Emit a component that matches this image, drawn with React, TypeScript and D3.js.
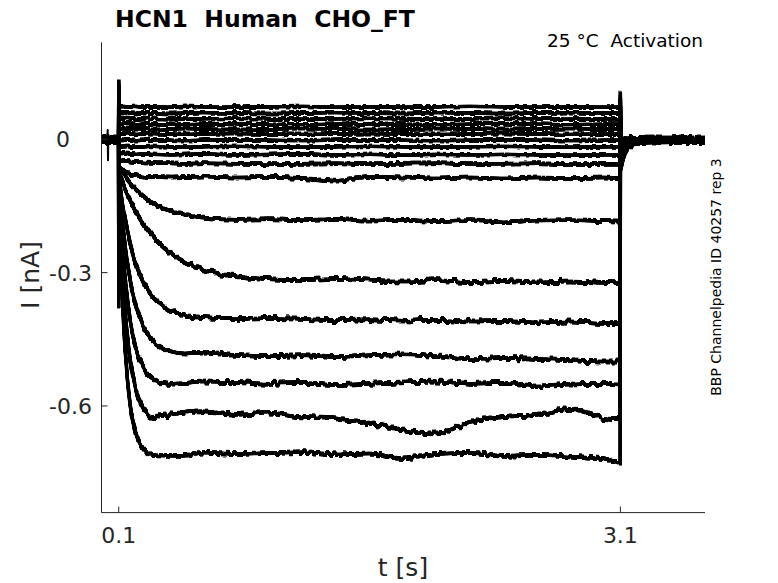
import React from 'react';
import * as d3 from 'd3';

const width = 778;
const height = 583;

// sample times (s) along the voltage step
const stepTimes = [
  0.101, 0.11, 0.12, 0.13, 0.15, 0.17, 0.2, 0.25, 0.3, 0.4, 0.5, 0.6, 0.8,
  1.0, 1.2, 1.4, 1.6, 1.8, 2.0, 2.2, 2.4, 2.6, 2.8, 3.0, 3.099,
];

// current (nA) of each sweep at stepTimes, top sweep first
const stepCurrents = [
  [0.073, 0.072, 0.073, 0.074, 0.072, 0.073, 0.074, 0.072, 0.073, 0.072, 0.074, 0.073, 0.072, 0.073, 0.074, 0.072, 0.073, 0.072, 0.073, 0.074, 0.073, 0.072, 0.073, 0.072, 0.073],
  [0.059, 0.060, 0.058, 0.059, 0.060, 0.059, 0.058, 0.060, 0.059, 0.058, 0.059, 0.060, 0.059, 0.058, 0.059, 0.060, 0.059, 0.058, 0.060, 0.059, 0.058, 0.059, 0.060, 0.059, 0.059],
  [0.047, 0.046, 0.045, 0.046, 0.047, 0.046, 0.045, 0.046, 0.047, 0.046, 0.045, 0.046, 0.047, 0.046, 0.045, 0.046, 0.047, 0.046, 0.045, 0.046, 0.047, 0.046, 0.045, 0.046, 0.046],
  [0.035, 0.034, 0.033, 0.034, 0.035, 0.034, 0.033, 0.034, 0.035, 0.034, 0.033, 0.034, 0.035, 0.034, 0.033, 0.034, 0.035, 0.034, 0.033, 0.034, 0.035, 0.034, 0.033, 0.034, 0.034],
  [0.022, 0.023, 0.024, 0.023, 0.022, 0.023, 0.024, 0.023, 0.022, 0.023, 0.024, 0.023, 0.022, 0.023, 0.024, 0.023, 0.022, 0.023, 0.024, 0.023, 0.022, 0.023, 0.024, 0.023, 0.023],
  [0.013, 0.012, 0.011, 0.012, 0.013, 0.012, 0.011, 0.012, 0.013, 0.012, 0.011, 0.012, 0.013, 0.012, 0.011, 0.012, 0.013, 0.012, 0.011, 0.012, 0.013, 0.012, 0.011, 0.012, 0.012],
  [-0.001, -0.002, -0.003, -0.002, -0.001, -0.002, -0.003, -0.002, -0.001, -0.002, -0.003, -0.002, -0.001, -0.002, -0.003, -0.002, -0.001, -0.002, -0.003, -0.002, -0.001, -0.002, -0.003, -0.002, -0.002],
  [-0.014, -0.015, -0.016, -0.017, -0.016, -0.017, -0.018, -0.017, -0.016, -0.017, -0.018, -0.017, -0.016, -0.017, -0.018, -0.017, -0.016, -0.017, -0.018, -0.017, -0.016, -0.017, -0.018, -0.017, -0.017],
  [-0.028, -0.029, -0.030, -0.031, -0.032, -0.033, -0.034, -0.033, -0.034, -0.035, -0.034, -0.033, -0.035, -0.034, -0.033, -0.035, -0.034, -0.036, -0.034, -0.035, -0.034, -0.035, -0.036, -0.035, -0.035],
  [-0.045, -0.046, -0.047, -0.048, -0.049, -0.050, -0.051, -0.052, -0.053, -0.054, -0.055, -0.054, -0.055, -0.056, -0.055, -0.054, -0.056, -0.055, -0.054, -0.056, -0.055, -0.054, -0.056, -0.055, -0.055],
  [-0.063, -0.066, -0.069, -0.071, -0.075, -0.078, -0.081, -0.084, -0.085, -0.086, -0.085, -0.084, -0.086, -0.085, -0.087, -0.093, -0.085, -0.086, -0.088, -0.086, -0.088, -0.086, -0.087, -0.086, -0.087],
  [-0.058, -0.065, -0.071, -0.077, -0.089, -0.099, -0.112, -0.129, -0.143, -0.160, -0.170, -0.176, -0.181, -0.180, -0.182, -0.179, -0.183, -0.181, -0.184, -0.182, -0.187, -0.183, -0.182, -0.184, -0.185],
  [-0.074, -0.084, -0.094, -0.104, -0.122, -0.138, -0.161, -0.192, -0.217, -0.253, -0.277, -0.292, -0.308, -0.315, -0.317, -0.314, -0.318, -0.320, -0.317, -0.321, -0.319, -0.322, -0.320, -0.323, -0.324],
  [-0.087, -0.115, -0.140, -0.163, -0.203, -0.237, -0.277, -0.324, -0.353, -0.384, -0.397, -0.402, -0.405, -0.402, -0.404, -0.407, -0.405, -0.408, -0.406, -0.410, -0.409, -0.412, -0.410, -0.413, -0.414],
  [-0.092, -0.138, -0.179, -0.215, -0.275, -0.321, -0.372, -0.425, -0.453, -0.476, -0.482, -0.480, -0.485, -0.488, -0.486, -0.490, -0.486, -0.484, -0.488, -0.495, -0.492, -0.494, -0.497, -0.500, -0.500],
  [-0.096, -0.166, -0.225, -0.276, -0.354, -0.411, -0.467, -0.515, -0.537, -0.550, -0.548, -0.545, -0.546, -0.550, -0.548, -0.553, -0.550, -0.547, -0.545, -0.550, -0.548, -0.556, -0.552, -0.550, -0.552],
  [-0.103, -0.199, -0.277, -0.342, -0.437, -0.501, -0.561, -0.606, -0.625, -0.620, -0.615, -0.612, -0.620, -0.615, -0.624, -0.628, -0.640, -0.655, -0.662, -0.636, -0.625, -0.620, -0.607, -0.627, -0.630],
  [-0.109, -0.237, -0.339, -0.418, -0.531, -0.601, -0.659, -0.698, -0.710, -0.712, -0.712, -0.705, -0.708, -0.706, -0.704, -0.709, -0.707, -0.718, -0.708, -0.706, -0.712, -0.710, -0.714, -0.720, -0.730],
];

// holding current before and after the step (nA)
const holdingCurrents = [0.004, 0.003, 0.002, 0.001, 0, -0.001, -0.002, -0.003, -0.004, -0.005, -0.006, -0.007, -0.002, 0.002, -0.004, 0.0, -0.006, 0.003];
// capacitive peaks at step on / off (nA)
const onsetPeaks = [0.131, 0.125, 0.118, 0.11, 0.1, 0.09, 0.08, 0.07, 0.06, -0.12, -0.16, -0.2, -0.24, -0.28, -0.31, -0.34, -0.36, -0.377];
const offsetPeaks = [0.09, 0.085, 0.08, 0.075, 0.07, 0.065, 0.06, 0.055, 0.05, 0.06, 0.065, 0.07, 0.075, 0.08, 0.085, 0.09, 0.097, 0.104];
// tail current right after the step (nA) and its relaxation back to holding
const tailStarts = [-0.005, -0.008, -0.01, -0.013, -0.016, -0.02, -0.024, -0.028, -0.032, -0.037, -0.042, -0.048, -0.055, -0.06, -0.064, -0.067, -0.069, -0.07];
const tailTimes = [3.1015, 3.11, 3.12, 3.14, 3.17, 3.2, 3.3, 3.45, 3.6];
const tailDecay = [1, 0.75, 0.53, 0.27, 0.1, 0.04, 0.01, 0, 0];
// small artifact in the holding segment
const artifactTimes = [0.03, 0.034, 0.036, 0.038, 0.042];
const artifactCurrents = [-0.003, 0.021, -0.047, 0.01, -0.003];

const xTicks = [0.1, 3.1];
const yTicks = [0, -0.3, -0.6];

const font = 'DejaVu Sans, sans-serif';
const axisColor = '#262626';

export default function App() {
  const x = d3.scaleLinear().domain([0, 3.6]).range([102, 704]);
  const y = d3.scaleLinear().domain([-0.84, 0.218]).range([512.6, 42.4]);

  const line = d3.line<[number, number]>()
    .x(d => x(d[0]))
    .y(d => y(d[1]))
    .curve(d3.curveMonotoneX);

  const traces = stepCurrents.map((vals, i) => {
    const h = holdingCurrents[i];
    const pts: [number, number][] = [[0, h], [0.0995, h], [0.1, onsetPeaks[i]]];
    stepTimes.forEach((t, j) => pts.push([t, vals[j]]));
    pts.push([3.1, offsetPeaks[i]]);
    tailTimes.forEach((t, j) => pts.push([t, h + (tailStarts[i] - h) * tailDecay[j]]));
    return pts;
  });

  const artifact = artifactTimes.map((t, i) => [t, artifactCurrents[i]] as [number, number]);

  const x0 = 101.5;
  const yb = y(-0.84);

  // larger sweeps carry more recording noise
  const noiseFilter = (i: number) => (i >= 12 ? 'url(#jitterBig)' : 'url(#jitter)');

  return (
    <svg width={width} height={height} style={{ position: 'absolute', left: 0, top: 0, background: '#fff' }}>
      <defs>
        {/* recording-noise texture: jitters the strokes vertically only */}
        {[['jitter', 5, 3], ['jitterBig', 8, 7]].map(([id, s, seed]) => (
          <filter key={id as string} id={id as string} x="-2%" y="-5%" width="104%" height="110%">
            <feTurbulence type="fractalNoise" baseFrequency="0.3 0.02" numOctaves={2} seed={seed as number} result="noise" />
            <feComponentTransfer in="noise" result="vnoise">
              <feFuncR type="linear" slope={0} intercept={0.5} />
            </feComponentTransfer>
            <feDisplacementMap in="SourceGraphic" in2="vnoise" scale={s as number} xChannelSelector="R" yChannelSelector="G" result="moved" />
            <feMorphology in="moved" operator="dilate" radius="0.5 0.7" result="thick" />
            <feComponentTransfer in="thick">
              <feFuncA type="linear" slope={1.8} intercept={0} />
            </feComponentTransfer>
          </filter>
        ))}
      </defs>
      <rect width={width} height={height} fill="#fff" />
      <g fill="none" stroke="#000" strokeWidth={1.4} strokeLinejoin="round">
        {traces.map((pts, i) => <path key={i} d={line(pts) || ''} filter={noiseFilter(i)} />)}
        <path d={d3.line<[number, number]>().x(d => x(d[0])).y(d => y(d[1]))(artifact) || ''} strokeWidth={2} />
      </g>

      {/* axes */}
      <line x1={x0} x2={x0} y1={y(0.218)} y2={yb} stroke={axisColor} strokeWidth={1} />
      <line x1={x0} x2={705} y1={yb} y2={yb} stroke={axisColor} strokeWidth={1} />
      {xTicks.map(t => (
        <g key={t}>
          <line x1={x(t)} x2={x(t)} y1={yb} y2={yb - 6} stroke={axisColor} />
          <text x={x(t)} y={yb + 30} textAnchor="middle" fontFamily={font} fontSize={22} fill={axisColor}>{t}</text>
        </g>
      ))}
      {yTicks.map(v => (
        <g key={v}>
          <line x1={x0} x2={x0 + 6} y1={y(v)} y2={y(v)} stroke={axisColor} />
          <text x={String(v).length === 1 ? 70 : 92} y={y(v) + 8} textAnchor="end" fontFamily={font} fontSize={22} fill={axisColor}>{v}</text>
        </g>
      ))}

      <text x={403} y={576} textAnchor="middle" fontFamily={font} fontSize={25} fill={axisColor}>t [s]</text>
      <text transform={`translate(39,275) rotate(-90)`} textAnchor="middle" fontFamily={font} fontSize={25} fill={axisColor}>I [nA]</text>

      <text x={115} y={27} fontFamily={font} fontSize={23.5} fontWeight="bold" fill="#000" style={{ whiteSpace: 'pre' }}>HCN1  Human  CHO_FT</text>
      <text x={703} y={47} textAnchor="end" fontFamily={font} fontSize={18.5} fill="#000" style={{ whiteSpace: 'pre' }}>25 °C  Activation</text>
      <text transform={`translate(721,277) rotate(-90)`} textAnchor="middle" fontFamily={font} fontSize={14} fill="#000" style={{ whiteSpace: 'pre' }}>BBP Channelpedia ID 40257 rep 3</text>
    </svg>
  );
}
